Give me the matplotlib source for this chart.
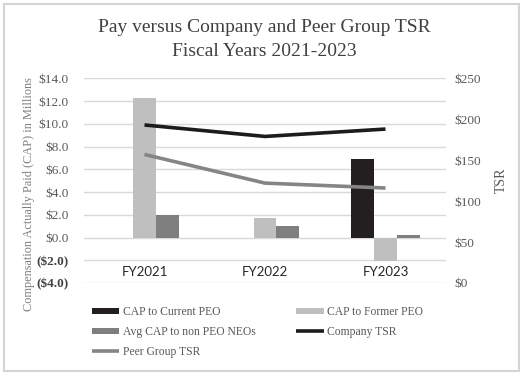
import matplotlib
matplotlib.use("Agg")
import matplotlib.pyplot as plt
from matplotlib.patches import Rectangle
import matplotlib.transforms as mtrans
import numpy as np

categories = ["FY2021", "FY2022", "FY2023"]
cap_current_peo = [0.0, 0.0, 6.9]
cap_former_peo = [12.3, 1.7, -2.1]
avg_cap_neo = [2.0, 1.0, 0.2]
company_tsr = [193, 179, 188]
peer_tsr = [157, 122, 116]

left_ticks = [14, 12, 10, 8, 6, 4, 2, 0, -2, -4]
right_ticks = [0, 50, 100, 150, 200, 250]

SERIF = "Liberation Serif"
C_CUR = "#231f20"
C_FOR = "#bfbfbf"
C_NEO = "#7f7f7f"
C_CTSR = "#1c1c1c"
C_PTSR = "#858585"
TXT = "#595959"

fig = plt.figure(figsize=(5.28, 3.75), dpi=100)
fig.patch.set_facecolor("white")
fig.patches.append(Rectangle((3.5/528, 4.5/375), 515/528, 366.5/375, transform=fig.transFigure,
                             fill=False, edgecolor="#d4d4d4", linewidth=1.5, zorder=0))

ax = fig.add_axes([84.25/528, 92/375, 361.5/528, 204.7/375])
x = np.arange(len(categories))
w = 0.19
b1 = ax.bar(x - w, cap_current_peo, w, color=C_CUR, zorder=2, label="CAP to Current PEO")
b2 = ax.bar(x, cap_former_peo, w, color=C_FOR, zorder=2, label="CAP to Former PEO")
b3 = ax.bar(x + w, avg_cap_neo, w, color=C_NEO, zorder=2, label="Avg CAP to non PEO NEOs")
ax.set_xlim(-0.5, 2.5)
ax.set_ylim(-4, 14)
ax.set_yticks(left_ticks)
labels = [f"${v:.1f}" if v >= 0 else f"(${abs(v):.1f})" for v in left_ticks]
ax.set_yticklabels(labels, fontfamily=SERIF, fontsize=9.5, color=TXT)
for t, v in zip(ax.get_yticklabels(), left_ticks):
    if v < 0:
        t.set_fontweight("bold")
        t.set_color("#404040")
ax.set_xticks([])
ax.grid(axis="y", color="#d9d9d9", linewidth=1, zorder=0)
ax.set_axisbelow(True)
for s in ax.spines.values():
    s.set_visible(False)
ax.tick_params(axis="y", length=0, pad=11)
ax.set_ylabel("Compensation Actually Paid (CAP) in Millions", fontfamily=SERIF,
              fontsize=8.8, color="#7f7f7f")
ax.yaxis.set_label_coords((35 - 84.25) / 361.5, (283 - 194) / 204.7)

trans = mtrans.blended_transform_factory(ax.transData, ax.transData)
for xi, c in zip(x, categories):
    ax.text(xi, -3.05, c, ha="center", va="center", fontfamily="Lato", fontsize=9.5,
            color="#262626", transform=trans)

ax2 = ax.twinx()
ax2.set_ylim(0, 250)
ax2.set_yticks(right_ticks)
ax2.set_yticklabels([f"${v}" for v in right_ticks], fontfamily=SERIF, fontsize=9.5, color=TXT)
ax2.tick_params(axis="y", length=0, pad=6)
for s in ax2.spines.values():
    s.set_visible(False)
l1, = ax2.plot(x, company_tsr, color=C_CTSR, linewidth=2.6, solid_capstyle="butt", label="Company TSR")
l2, = ax2.plot(x, peer_tsr, color=C_PTSR, linewidth=2.6, solid_capstyle="butt", label="Peer Group TSR")
ax2.set_ylabel("TSR", fontfamily=SERIF, fontsize=10, color=TXT, labelpad=10)

handles = [b1, b3, l2, b2, l1]
lbls = [h.get_label() for h in handles]
leg = fig.legend(handles, lbls, ncol=2, loc="upper left", bbox_to_anchor=(87/528, 1 - 301.5/375),
                 frameon=False, prop={"family": SERIF, "size": 8.4}, handlelength=2.37,
                 handleheight=0.45, handletextpad=0.29, columnspacing=3.5, labelspacing=0.66,
                 borderaxespad=0)
for t in leg.get_texts():
    t.set_color(TXT)

fig.text(0.5, 1 - 32/375, "Pay versus Company and Peer Group TSR", ha="center", va="baseline",
         fontfamily=SERIF, fontsize=14, color="#404040")
fig.text(0.5, 1 - 55.5/375, "Fiscal Years 2021-2023", ha="center", va="baseline",
         fontfamily=SERIF, fontsize=14, color="#404040")

fig.savefig("out.png", dpi=100, facecolor="white")
